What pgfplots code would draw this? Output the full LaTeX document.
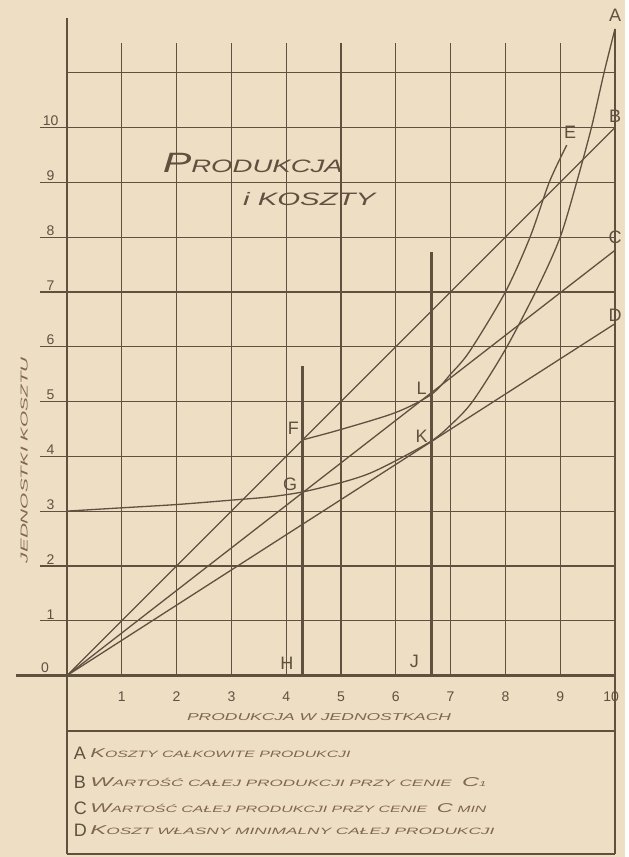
\documentclass[border=0pt]{standalone}
\usepackage{pgfplots}
\pgfplotsset{compat=1.18}
\usepackage{fontspec}
\setmainfont{Liberation Sans}

\definecolor{paper}{RGB}{238,222,196}
\definecolor{ink}{RGB}{96,80,64}
\definecolor{pen}{RGB}{128,102,80}

\newcommand{\fs}[1]{\fontsize{#1}{#1}\selectfont}
% stretch text horizontally to a measured width, keep its height
\newcommand{\wide}[2]{\resizebox{#1}{\height}{#2}}
\newcommand{\smc}[2]{{\fs{6.4}#1}{\fs{4.6}#2}}

\begin{document}
\begin{tikzpicture}
\begin{axis}[
    scale only axis,
    width=312.5pt, height=428.5pt,
    xmin=-1.2226, xmax=10.1825,
    ymin=-3.312, ymax=12.327,
    hide axis, clip=false,
    curve/.style={ink, line width=0.65pt, no marks},
]
% paper
\fill[paper] (axis cs:-1.2226,-3.312) rectangle (axis cs:10.1825,12.327);

% grid
\pgfplotsinvokeforeach{1,...,10}{
  \draw[ink, line width=0.6pt] (axis cs:-0.5,#1) -- (axis cs:10,#1);
}
\draw[ink, line width=0.6pt] (axis cs:0,11) -- (axis cs:10,11);
\pgfplotsinvokeforeach{1,...,9}{
  \draw[ink, line width=0.6pt] (axis cs:#1,0) -- (axis cs:#1,11.55);
}
\draw[ink, line width=0.6pt] (axis cs:10,-3.26) -- (axis cs:10,11.8);
% axes and frame below
\draw[ink, line width=1.1pt] (axis cs:0,-3.26) -- (axis cs:0,12.0);
\draw[ink, line width=1.1pt] (axis cs:-0.93,0) -- (axis cs:10,0);
\draw[ink, line width=0.8pt] (axis cs:0,-1.01) -- (axis cs:10,-1.01);
\draw[ink, line width=0.8pt] (axis cs:0,-3.26) -- (axis cs:10,-3.26);

% tick labels
\pgfplotsinvokeforeach{1,...,10}{
  \node[ink, anchor=south, inner sep=0.6pt] at (axis cs:-0.3,#1) {\fs{7}#1};
}
\node[ink, anchor=south, inner sep=0.6pt] at (axis cs:-0.4,0.02) {\fs{7}0};
\pgfplotsinvokeforeach{1,...,9}{
  \node[ink] at (axis cs:#1,-0.39) {\fs{7}#1};
}
\node[ink] at (axis cs:9.93,-0.39) {\fs{7}10};

% axis titles
\node[pen] at (axis cs:4.6,-0.75) {\wide{132pt}{\fs{5}\itshape PRODUKCJA W JEDNOSTKACH}};
\node[pen, rotate=90] at (axis cs:-0.78,3.93) {\wide{103pt}{\fs{5}\itshape JEDNOSTKI KOSZTU}};

% chart title
\node[ink] at (axis cs:3.39,9.35) {\wide{90pt}{\itshape{\fs{14}P}{\fs{9}RODUKCJA}}};
\node[ink] at (axis cs:4.42,8.7) {\wide{66pt}{\itshape\fs{9}i KOSZTY}};

% B, C, D: value of production at two prices, minimal own cost
\addplot[curve] coordinates {(0,0) (10,10)};
\addplot[curve] coordinates {(0,0) (10,7.76)};
\addplot[curve] coordinates {(0,0) (10,6.42)};

% A: total cost of production
\addplot[curve, smooth] coordinates {
(0,3.0) (1,3.06) (2,3.12) (3,3.2) (3.7,3.26) (4.3,3.35) (5,3.52) (5.5,3.68)
(6,3.92) (6.65,4.28) (7,4.57) (7.4,5.0) (8.0,5.95) (8.6,7.1) (9.0,8.0)
(9.3,9.0) (9.57,10.0) (9.8,11.0) (10,11.8)
};
% E
\addplot[curve, smooth] coordinates {
(4.3,4.3) (5,4.49) (6,4.8) (6.65,5.13) (7.0,5.5) (7.35,5.92) (8,7.0)
(8.45,8.0) (8.8,9.0) (9.12,9.68)
};

% production levels H and J
\addplot[curve, line width=1.3pt] coordinates {(4.3,0) (4.3,5.65)};
\addplot[curve, line width=1.3pt] coordinates {(6.65,0) (6.65,7.72)};

% point labels
\node[ink] at (axis cs:10.0,12.05) {\fs{9}A};
\node[ink] at (axis cs:10.0,10.2) {\fs{9}B};
\node[ink] at (axis cs:10.0,8.0) {\fs{9}C};
\node[ink] at (axis cs:10.0,6.58) {\fs{9}D};
\node[ink] at (axis cs:9.18,9.92) {\fs{9}E};
\node[ink] at (axis cs:4.13,4.51) {\fs{9}F};
\node[ink] at (axis cs:4.07,3.49) {\fs{9}G};
\node[ink] at (axis cs:6.47,5.24) {\fs{9}L};
\node[ink] at (axis cs:6.47,4.37) {\fs{9}K};
\node[ink] at (axis cs:4.01,0.23) {\fs{9}H};
\node[ink] at (axis cs:6.34,0.25) {\fs{9}J};

% legend
\node[ink, anchor=west, inner sep=0pt] at (axis cs:0.12,-1.42) {\fs{9}A};
\node[ink, anchor=west, inner sep=0pt] at (axis cs:0.12,-1.95) {\fs{9}B};
\node[ink, anchor=west, inner sep=0pt] at (axis cs:0.12,-2.42) {\fs{9}C};
\node[ink, anchor=west, inner sep=0pt] at (axis cs:0.12,-2.82) {\fs{9}D};
\node[pen, anchor=west, inner sep=0pt] at (axis cs:0.42,-1.42)
  {\wide{130pt}{\itshape\smc{K}{OSZTY CAŁKOWITE PRODUKCJI}}};
\node[pen, anchor=west, inner sep=0pt] at (axis cs:0.42,-1.95)
  {\wide{198pt}{\itshape\smc{W}{ARTOŚĆ CAŁEJ PRODUKCJI PRZY CENIE} \smc{C}{\fs{3.5}1}}};
\node[pen, anchor=west, inner sep=0pt] at (axis cs:0.42,-2.42)
  {\wide{198pt}{\itshape\smc{W}{ARTOŚĆ CAŁEJ PRODUKCJI PRZY CENIE} \smc{C}{ MIN}}};
\node[pen, anchor=west, inner sep=0pt] at (axis cs:0.42,-2.82)
  {\wide{202pt}{\itshape\smc{K}{OSZT WŁASNY MINIMALNY CAŁEJ PRODUKCJI}}};
\end{axis}
\end{tikzpicture}
\end{document}
